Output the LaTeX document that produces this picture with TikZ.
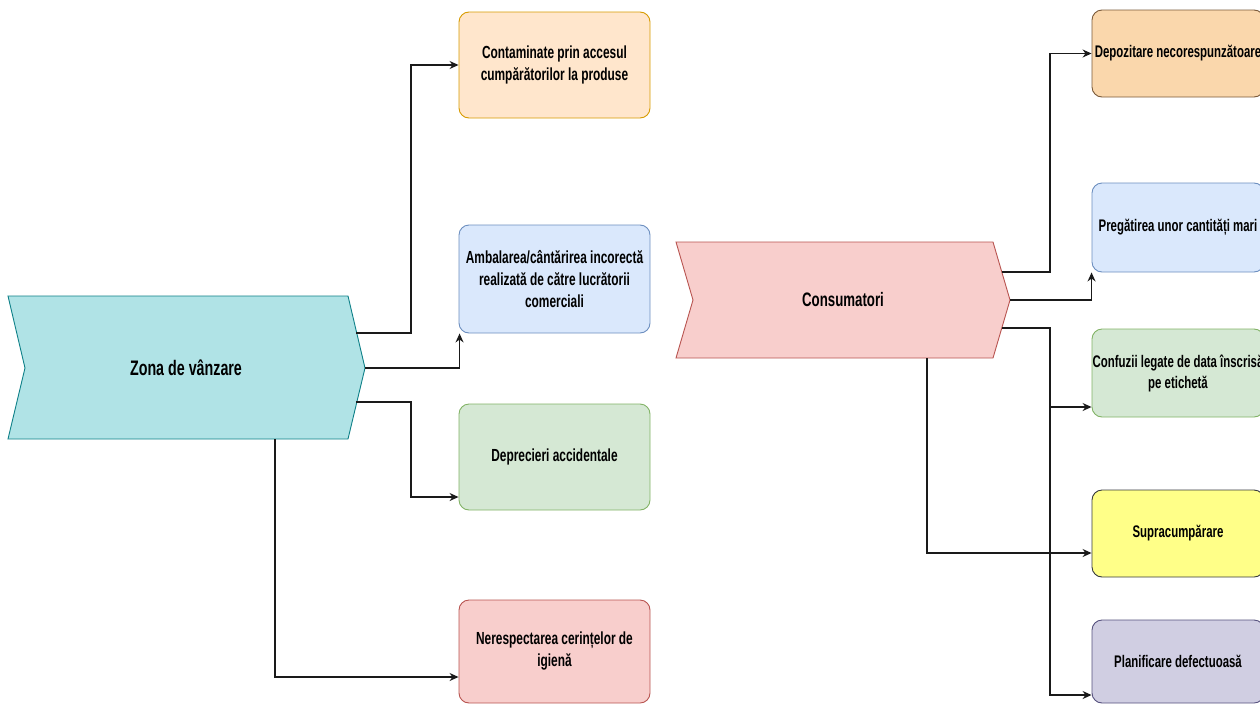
\documentclass[tikz,border=0pt]{standalone}
\usepackage{fontspec}
\setmainfont{Liberation Sans}[FakeStretch=0.68]
\usetikzlibrary{arrows.meta}

\definecolor{tealfill}{HTML}{B0E3E6}
\definecolor{tealline}{HTML}{0E8088}
\definecolor{redfill}{HTML}{F8CECC}
\definecolor{redline}{HTML}{B85450}
\definecolor{orangefill}{HTML}{FFE6CC}
\definecolor{orangeline}{HTML}{D79B00}
\definecolor{darkorangefill}{HTML}{FAD7AC}
\definecolor{darkorangeline}{HTML}{7A5A3A}
\definecolor{bluefill}{HTML}{DAE8FC}
\definecolor{blueline}{HTML}{6C8EBF}
\definecolor{greenfill}{HTML}{D5E8D4}
\definecolor{greenline}{HTML}{82B366}
\definecolor{yellowfill}{HTML}{FFFF88}
\definecolor{yellowline}{HTML}{36393D}
\definecolor{purplefill}{HTML}{D0CEE2}
\definecolor{purpleline}{HTML}{56517E}
\definecolor{wire}{HTML}{1A1A1A}

\tikzset{
  chevtext/.style={font=\bfseries\fontsize{21}{25}\selectfont, align=center, text=black},
  leftbox/.style={draw, line width=0.9pt, rounded corners=10pt, minimum width=191pt,
    align=center, inner sep=0pt, font=\bfseries\fontsize{17.5}{22}\selectfont},
  rightbox/.style={draw, line width=0.9pt, rounded corners=10pt, minimum width=172pt,
    align=center, inner sep=0pt, font=\bfseries\fontsize{16.8}{21}\selectfont},
  conn/.style={draw=wire, line width=1.3pt, -{Stealth[length=9pt,width=8pt]}},
}

\begin{document}
\begin{tikzpicture}[x=1pt,y=-1pt]
\useasboundingbox (0,0) rectangle (1260,704);
\clip (0,0) rectangle (1260,704);

% ---- left process: sales area ----
\draw[fill=tealfill, draw=tealline, line width=0.9pt]
  (8,296) -- (348,296) -- (365,368) -- (348,439) -- (8,439) -- (25,368) -- cycle;
\node[chevtext] (zona) at (186,368) {Zona de vânzare};
\coordinate (zA) at (356,333);
\coordinate (zT) at (365,368);
\coordinate (zB) at (356,402);
\coordinate (zD) at (275,439);

\node[leftbox, fill=orangefill, draw=orangeline, minimum height=106pt] (c1) at (554.5,65)
  {Contaminate prin accesul\\cumpărătorilor la produse};
\node[leftbox, fill=bluefill, draw=blueline, minimum height=108pt] (c2) at (554.5,279)
  {Ambalarea/cântărirea incorectă\\realizată de către lucrătorii\\comerciali};
\node[leftbox, fill=greenfill, draw=greenline, minimum height=106pt] (c3) at (554.5,457)
  {Deprecieri accidentale};
\node[leftbox, fill=redfill, draw=redline, minimum height=103pt] (c4) at (554.5,651.5)
  {Nerespectarea cerințelor de\\igienă};

\draw[conn] (zA) -- (411,333) |- (c1.west);
\draw[conn] (zT) -| ([xshift=1pt]c2.south west);
\draw[conn] (zB) -- (411,402) |- ([yshift=-40pt]c3.west);
\draw[conn] (zD) |- ([yshift=-25.5pt]c4.west);

% ---- right process: consumers ----
\draw[fill=redfill, draw=redline, line width=0.9pt]
  (676,242) -- (993,242) -- (1010,300) -- (993,358) -- (676,358) -- (693,300) -- cycle;
\node[chevtext, font=\bfseries\fontsize{19.5}{24}\selectfont] (cons) at (843,300) {Consumatori};
\coordinate (kA) at (1002,272);
\coordinate (kT) at (1010,300);
\coordinate (kB) at (1002,328);
\coordinate (kD) at (927,358);

\node[rightbox, fill=darkorangefill, draw=darkorangeline, minimum height=87pt] (r1) at (1178,53.5)
  {Depozitare necorespunzătoare};
\node[rightbox, fill=bluefill, draw=blueline, minimum height=89pt] (r2) at (1178,227.5)
  {Pregătirea unor cantități mari};
\node[rightbox, fill=greenfill, draw=greenline, minimum height=88pt] (r3) at (1178,373)
  {Confuzii legate de data înscrisă\\pe etichetă};
\node[rightbox, fill=yellowfill, draw=yellowline, minimum height=87pt] (r4) at (1178,533.5)
  {Supracumpărare};
\node[rightbox, fill=purplefill, draw=purpleline, minimum height=83pt] (r5) at (1178,661.5)
  {Planificare defectuoasă};

\draw[conn] (kA) -- (1050,272) |- (r1.west);
\draw[conn] (kT) -| ([xshift=0pt]r2.south west);
\draw[conn] (kB) -- (1050,328) |- ([yshift=-33.5pt]r5.west);
\draw[conn] (1050,407) -- ([yshift=-34pt]r3.west);
\draw[conn] (kD) |- ([yshift=-19.5pt]r4.west);
\end{tikzpicture}
\end{document}
